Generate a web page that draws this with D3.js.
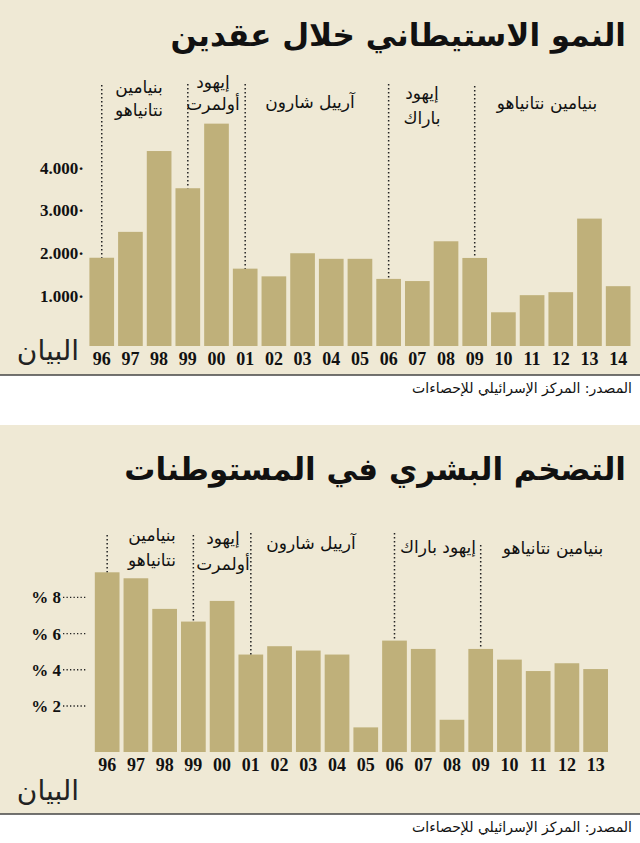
<!DOCTYPE html>
<html><head><meta charset="utf-8">
<script src="https://cdn.jsdelivr.net/npm/d3@7"></script>
<style>body{margin:0;background:#fff}</style>
</head><body><div id="viz"></div>
<script>
// chart 1: settlement growth (units)
const years1 = ["96","97","98","99","00","01","02","03","04","05","06","07","08","09","10","11","12","13","14"];
const values1 = [1895,2500,4390,3520,5030,1640,1460,2000,1870,1870,1400,1350,2280,1890,620,1020,1090,2810,1230];
const ticks1 = [1000,2000,3000,4000];
// chart 2: population growth (%)
const years2 = ["96","97","98","99","00","01","02","03","04","05","06","07","08","09","10","11","12","13"];
const values2 = [9.38,9.05,7.36,6.66,7.80,4.84,5.30,5.06,4.84,0.82,5.61,5.15,1.24,5.15,4.56,3.93,4.36,4.04];
const ticks2 = [2,4,6,8];

const eras1 = [
  { year: "96", lines: ["بنيامين", "نتانياهو"], lx: 139, ly: [87, 110], top: 85 },
  { year: "99", lines: ["إيهود", "أولمرت"], lx: 213, ly: [82, 104], top: 84 },
  { year: "01", lines: ["آرييل شارون"], lx: 310, ly: [102], top: 84 },
  { year: "06", lines: ["إيهود", "باراك"], lx: 422, ly: [93, 118], top: 84 },
  { year: "09", lines: ["بنيامين نتانياهو"], lx: 547, ly: [103], top: 86 }
];
const eras2 = [
  { year: "96", lines: ["بنيامين", "نتانياهو"], lx: 152, ly: [535, 560], top: 535 },
  { year: "99", lines: ["إيهود", "أولمرت"], lx: 223, ly: [538, 564], top: 535 },
  { year: "01", lines: ["آرييل شارون"], lx: 311, ly: [543], top: 533 },
  { year: "06", lines: ["إيهود باراك"], lx: 438, ly: [547], top: 533 },
  { year: "09", lines: ["بنيامين نتانياهو"], lx: 553, ly: [548], top: 545 }
];

const W = 640, H = 843;
const barColor = "#bfb07a", bg = "#efe9d5";
const arFont = "DejaVu Sans", numFont = "Liberation Serif";

const svg = d3.select("#viz").append("svg").attr("width", W).attr("height", H);

function panel(o) {
  svg.append("rect").attr("x", 0).attr("y", o.top).attr("width", W).attr("height", o.bottom - o.top).attr("fill", bg);
  svg.append("line").attr("x1", 0).attr("x2", W).attr("y1", o.bottom).attr("y2", o.bottom)
    .attr("stroke", "#444").attr("stroke-width", 1.5);
  svg.append("text").attr("x", 626).attr("y", o.titleY).attr("text-anchor", "end")
    .style("font-family", arFont).style("font-weight", "bold")
    .style("font-size", "31px").attr("fill", "#111").text(o.title);
  svg.append("text").attr("x", 632).attr("y", o.bottom + 18).attr("text-anchor", "end")
    .style("font-family", arFont).style("font-size", "14px")
    .attr("fill", "#111").text("المصدر: المركز الإسرائيلي للإحصاءات");

  const x = d3.scaleBand().domain(o.years).range([o.x0, o.x1]).paddingInner(0.14).paddingOuter(0.07);
  const y = d3.scaleLinear().domain(o.yDomain).range(o.yRange);

  const g = svg.append("g");
  g.selectAll("rect.bar").data(o.values).enter().append("rect")
    .attr("x", (d, i) => x(o.years[i])).attr("width", x.bandwidth())
    .attr("y", d => y(d)).attr("height", d => o.baseY - y(d)).attr("fill", barColor);

  g.selectAll("text.xl").data(o.years).enter().append("text")
    .attr("x", d => x(d) + x.bandwidth() / 2).attr("y", o.baseY + 19)
    .attr("text-anchor", "middle").style("font-family", numFont).style("font-weight", "bold")
    .style("font-size", "18px").attr("fill", "#111").text(d => d);

  o.ticks.forEach(t => {
    g.append("text").attr("x", o.tickX).attr("y", y(t) + 6).attr("text-anchor", "end")
      .style("font-family", numFont).style("font-weight", "bold").style("font-size", "17px")
      .attr("fill", "#111").text(o.fmt(t));
    if (o.leader) {
      g.append("line").attr("x1", o.tickX + 2).attr("x2", o.tickX + 26).attr("y1", y(t)).attr("y2", y(t))
        .attr("stroke", "#222").attr("stroke-width", 1.3).attr("stroke-dasharray", "1.3,2.2");
    }
  });

  o.eras.forEach(e => {
    const cx = x(e.year) + x.bandwidth() / 2;
    const v = o.values[o.years.indexOf(e.year)];
    g.append("line").attr("x1", cx).attr("x2", cx).attr("y1", e.top).attr("y2", y(v))
      .attr("stroke", "#222").attr("stroke-width", 1.5).attr("stroke-dasharray", "1.5,2.5");
    e.lines.forEach((l, i) => {
      g.append("text").attr("x", e.lx).attr("y", e.ly[i] + 6).attr("text-anchor", "middle")
        .style("font-family", arFont).style("font-size", "17px")
        .attr("fill", "#111").text(l);
    });
  });

  svg.append("text").attr("x", 48).attr("y", o.logoY).attr("text-anchor", "middle")
    .style("font-family", arFont).style("font-size", "28px")
    .attr("fill", "#222").text("البيان");
}

panel({
  top: 0, bottom: 375, titleY: 46, title: "النمو الاستيطاني خلال عقدين",
  years: years1, values: values1, ticks: ticks1, eras: eras1,
  x0: 87.4, x1: 632.5, baseY: 346, yDomain: [0, 4000], yRange: [338.8, 167.7],
  tickX: 84, fmt: t => d3.format(",")(t).replace(",", ".") + "·", leader: false, logoY: 360
});

panel({
  top: 425, bottom: 814, titleY: 480, title: "التضخم البشري في المستوطنات",
  years: years2, values: values2, ticks: ticks2, eras: eras2,
  x0: 92.8, x1: 610, baseY: 752, yDomain: [2, 8], yRange: [706, 597.3],
  tickX: 61, fmt: t => "% " + t, leader: true, logoY: 800
});
</script>
</body></html>
